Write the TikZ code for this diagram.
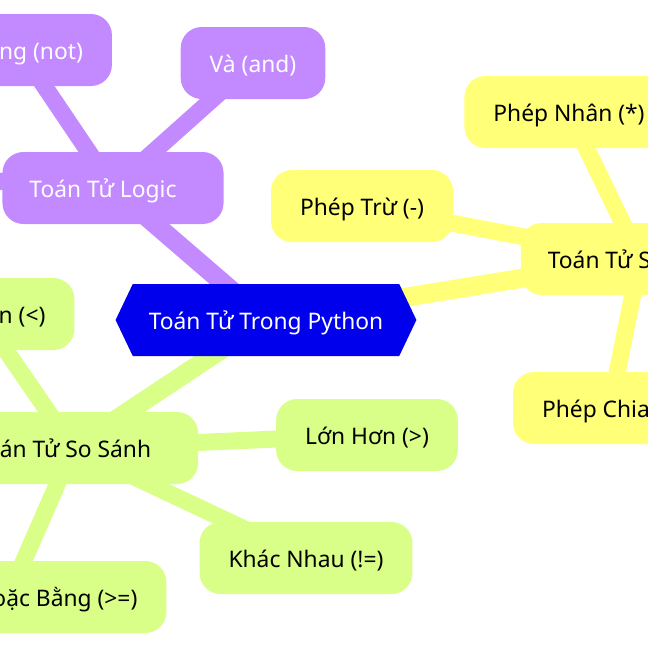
\documentclass[tikz,border=0pt]{standalone}
\usepackage{fontspec}
\setmainfont{Noto Sans}
\usetikzlibrary{
  shapes.symbols,
  backgrounds
}
\definecolor{mmRoot}{HTML}{0000EC}
\definecolor{mmLogic}{HTML}{C38AFF}
\definecolor{mmArith}{HTML}{FFFF78}
\definecolor{mmCmp}{HTML}{D9FF88}

\begin{document}
\begin{tikzpicture}[x=1pt, y=-1pt, font=\fontsize{22.8}{27}\selectfont,
  every node/.style={text height=22pt, text depth=4pt},
  leaf/.style={rounded corners=21pt, minimum height=72pt, inner xsep=29pt},
  trunk/.style={line width=19pt},
  twig/.style={line width=17pt}]
  \useasboundingbox (0,0) rectangle (648,648);
  \clip (0,0) rectangle (648,648);
  \node[signal, signal to=west and east, signal pointer angle=129, fill=mmRoot,
    text=white, minimum height=72pt, inner xsep=16pt] (root) at (266,320) {Toán Tử Trong Python};
  % first level
  \foreach \name/\x/\y/\txt/\col/\tcol in {logic/113/188/{Toán Tử Logic}/mmLogic/white,
      arith/640/259/{Toán Tử Số Học}/mmArith/black,
      cmp/73/448/{Toán Tử So Sánh}/mmCmp/black}{
    \node[leaf, inner xsep=27pt, fill=\col, text=\tcol] (\name) at (\x,\y) {\txt\hspace*{20pt}};
  }
  % second level
  \foreach \name/\x/\y/\txt/\col/\tcol in {not/20/50/{Không (not)}/mmLogic/white,
      and/253/63/{Và (and)}/mmLogic/white,
      sub/362/206/{Phép Trừ (-)}/mmArith/black,
      mul/569/112/{Phép Nhân (*)}/mmArith/black,
      div/610/408/{Phép Chia (/)}/mmArith/black,
      lt/-19/314/{Nhỏ Hơn (<)}/mmCmp/black,
      gt/367/435/{Lớn Hơn (>)}/mmCmp/black,
      ne/306/558/{Khác Nhau (!=)}/mmCmp/black,
      ge/8/597/{Lớn Hơn Hoặc Bằng (>=)}/mmCmp/black}{
    \node[leaf, fill=\col, text=\tcol] (\name) at (\x,\y) {\txt};
  }
  \coordinate (or) at (-120,174);
  \begin{scope}[on background layer]
    \draw[trunk, mmLogic] (root.center) -- (logic.center);
    \draw[trunk, mmArith] (root.center) -- (arith.center);
    \draw[trunk, mmCmp] (root.center) -- (cmp.center);
    \foreach \a/\b/\col in {logic/not/mmLogic, logic/and/mmLogic, logic/or/mmLogic,
        arith/sub/mmArith, arith/mul/mmArith, arith/div/mmArith,
        cmp/lt/mmCmp, cmp/gt/mmCmp, cmp/ne/mmCmp, cmp/ge/mmCmp}{
      \draw[twig, \col] (\a.center) -- (\b.center);
    }
  \end{scope}
\end{tikzpicture}
\end{document}
